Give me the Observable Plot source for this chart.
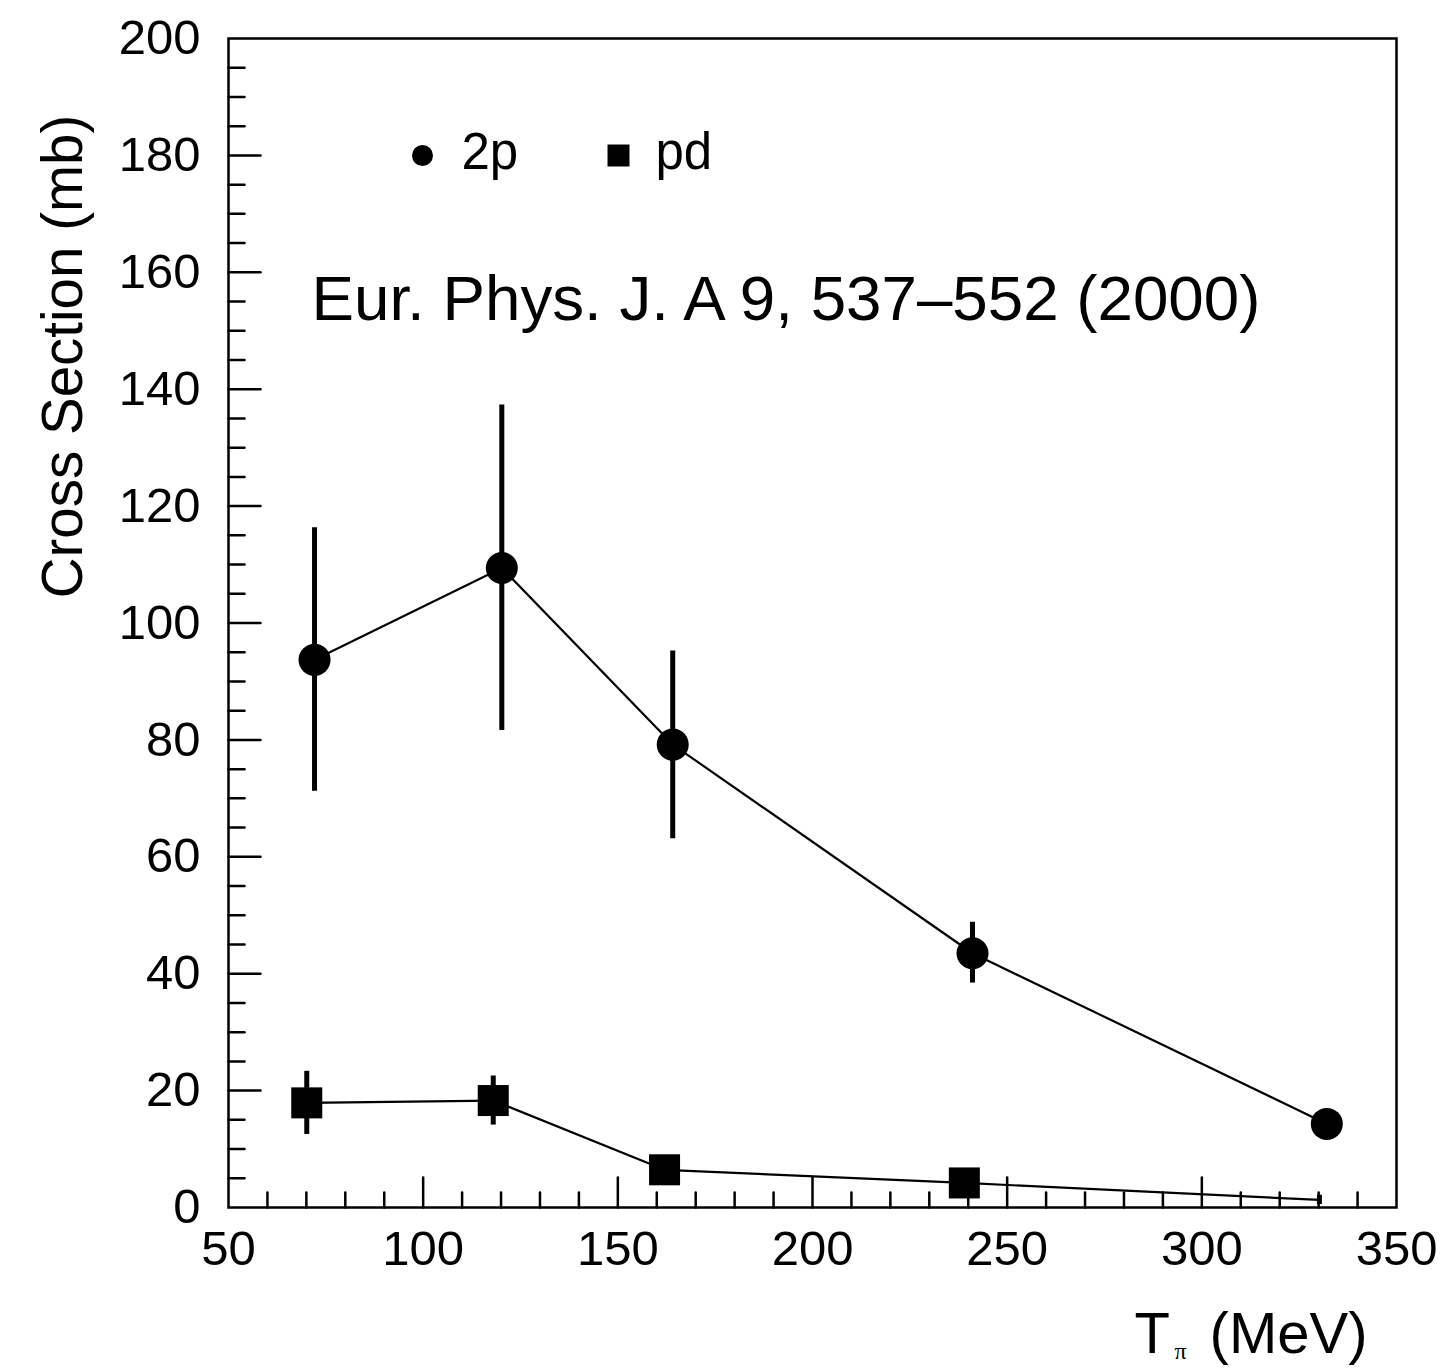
<!DOCTYPE html>
<html>
<head>
<meta charset="utf-8">
<script src="https://cdn.jsdelivr.net/npm/d3@7"></script>
<script src="https://cdn.jsdelivr.net/npm/@observablehq/plot@0.6"></script>
<style>
html, body { margin: 0; padding: 0; background: #fff; }
#chart svg { display: block; }
</style>
</head>
<body>
<div id="chart"></div>
<script>
// ---- Data ----
const energy2p = [72.1, 120.2, 164.1, 241.1, 332.1];
const sigma2p  = [93.7, 109.4, 79.2, 43.5, 14.3];
const low2p    = [71.2, 81.6, 63.1, 38.4, 12.5];
const high2p   = [116.3, 137.3, 95.2, 48.8, 16.1];

const energyPd = [70.1, 118.0, 162.0, 239.0, 330.2];
const sigmaPd  = [17.9, 18.3, 6.45, 4.2, 1.3];
const lowPd    = [12.5, 14.1, 4.8, 2.6, 0.5];
const highPd   = [23.3, 22.5, 8.1, 5.8, 2.1];
const markerPd = [true, true, true, true, false];

const xTickLabels = [50, 100, 150, 200, 250, 300, 350];
const yTickLabels = [0, 20, 40, 60, 80, 100, 120, 140, 160, 180, 200];
const legendLabels = ["2p", "pd"];
const citation = "Eur. Phys. J. A 9, 537\u2013552 (2000)";
const yTitle = "Cross Section (mb)";
const xTitleMain = "T";
const xTitleSub = "\u03c0";
const xTitleUnit = "(MeV)";

// ---- Build tables ----
const data2p = energy2p.map((e, i) => ({e, s: sigma2p[i], lo: low2p[i], hi: high2p[i]}));
const dataPd = energyPd.map((e, i) => ({e, s: sigmaPd[i], lo: lowPd[i], hi: highPd[i], m: markerPd[i]}));

const xMajor = xTickLabels.slice(1, -1);
const xMinor = d3.range(60, 350, 10).filter(v => v % 50 !== 0);
const yMajor = yTickLabels.slice(1, -1);
const yMinor = d3.range(5, 200, 5).filter(v => v % 20 !== 0);

const tickShape = {
  draw(context, l) { context.moveTo(0, 0); context.lineTo(0, -l); }
};

const font = "'Liberation Sans', Arial, Helvetica, sans-serif";

const chart = Plot.plot({
  width: 1445,
  height: 1368,
  marginLeft: 228,
  marginRight: 49,
  marginTop: 38,
  marginBottom: 161,
  x: {domain: [50, 350]},
  y: {domain: [0, 200]},
  style: {fontFamily: font, fontSize: "49px", color: "black", background: "white"},
  marks: [
    // inward ticks
    Plot.vector(xMinor, {x: d => d, y: () => 0, length: 15, rotate: 0, anchor: "start", shape: tickShape, stroke: "black", strokeWidth: 2.5}),
    Plot.vector(xMajor, {x: d => d, y: () => 0, length: 30, rotate: 0, anchor: "start", shape: tickShape, stroke: "black", strokeWidth: 2.5}),
    Plot.vector(yMinor, {x: () => 50, y: d => d, length: 16, rotate: 90, anchor: "start", shape: tickShape, stroke: "black", strokeWidth: 2.5}),
    Plot.vector(yMajor, {x: () => 50, y: d => d, length: 32, rotate: 90, anchor: "start", shape: tickShape, stroke: "black", strokeWidth: 2.5}),
    // tick labels
    Plot.axisX(xTickLabels, {tickSize: 0, tickPadding: 23, label: null, fontSize: 49}),
    Plot.axisY(yTickLabels, {tickSize: 0, tickPadding: 28, label: null, fontSize: 49}),
    Plot.frame({stroke: "black", strokeWidth: 2.5}),
    // 2p series
    Plot.line(data2p, {x: "e", y: "s", stroke: "black", strokeWidth: 2.2}),
    Plot.ruleX(data2p, {x: "e", y1: "lo", y2: "hi", stroke: "black", strokeWidth: 5}),
    Plot.dot(data2p, {x: "e", y: "s", r: 16, fill: "black"}),
    // pd series
    Plot.line(dataPd, {x: "e", y: "s", stroke: "black", strokeWidth: 2.2}),
    Plot.ruleX(dataPd, {x: "e", y1: "lo", y2: "hi", stroke: "black", strokeWidth: 5}),
    Plot.dot(dataPd, {filter: d => d.m, x: "e", y: "s", symbol: "square", r: 17.5, fill: "black"}),
    // legend
    Plot.dot([legendLabels[0]], {frameAnchor: "top-left", dx: 194, dy: 117, r: 10.5, fill: "black"}),
    Plot.text([legendLabels[0]], {frameAnchor: "top-left", dx: 233, dy: 130, text: d => d, textAnchor: "start", lineAnchor: "bottom", fontSize: 51}),
    Plot.dot([legendLabels[1]], {frameAnchor: "top-left", dx: 390, dy: 117, symbol: "square", r: 12.4, fill: "black"}),
    Plot.text([legendLabels[1]], {frameAnchor: "top-left", dx: 427, dy: 130, text: d => d, textAnchor: "start", lineAnchor: "bottom", fontSize: 51}),
    // citation
    Plot.text([citation], {frameAnchor: "top-left", dx: 83, dy: 281, text: d => d, textAnchor: "start", lineAnchor: "bottom", fontSize: 63.7}),
    // y title
    Plot.text([yTitle], {frameAnchor: "top-left", dx: -147, dy: 318, text: d => d, rotate: -90, textAnchor: "middle", lineAnchor: "bottom", fontSize: 56.5}),
    // x title
    Plot.text([xTitleMain], {frameAnchor: "bottom-left", dx: 906, dy: 145, text: d => d, textAnchor: "start", lineAnchor: "bottom", fontSize: 58}),
    Plot.text([xTitleSub], {frameAnchor: "bottom-left", dx: 946, dy: 151, text: d => d, textAnchor: "start", lineAnchor: "bottom", fontSize: 24, fontFamily: "'Liberation Serif', 'DejaVu Serif', serif"}),
    Plot.text([xTitleUnit], {frameAnchor: "bottom-right", dx: -29, dy: 145, text: d => d, textAnchor: "end", lineAnchor: "bottom", fontSize: 58})
  ]
});

document.getElementById("chart").appendChild(chart);
</script>
</body>
</html>
